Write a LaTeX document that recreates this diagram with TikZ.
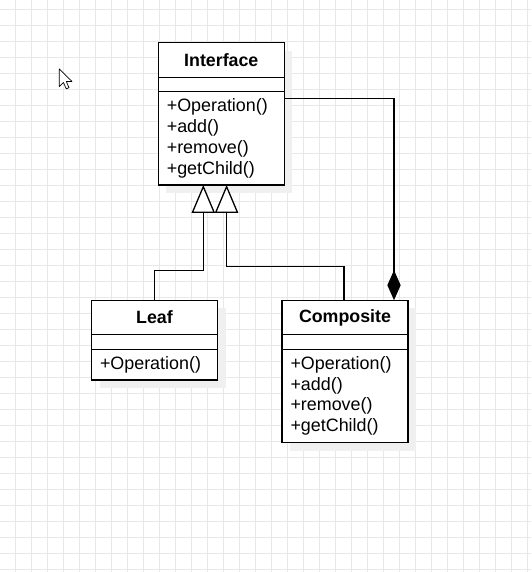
\documentclass[tikz,border=0pt]{standalone}
\usepackage{fontspec}
\setmainfont{Liberation Sans}
\usetikzlibrary{arrows.meta,positioning,shadows}

\begin{document}
\begin{tikzpicture}[x=1pt,y=1pt,
    umlbox/.style={draw, line width=1.3pt, fill=white, outer sep=0pt, inner sep=0pt,
      minimum width=126pt,
      drop shadow={shadow xshift=8pt, shadow yshift=-8pt, fill=black!6, opacity=1}},
    umltitle/.style={umlbox, minimum height=34.6pt, font=\fontsize{17.8}{21}\selectfont\bfseries},
    umlattr/.style={umlbox, minimum height=14.4pt},
    umlops/.style={umlbox, align=left, text width=109pt, inner xsep=8.5pt,
      font=\fontsize{17.9}{20.9}\selectfont},
    inherit/.style={line width=1.3pt, -{Triangle[fill=white, length=28pt, width=23.3pt]}},
    compose/.style={line width=1.3pt, {Diamond[length=30pt, width=13.3pt]}-}]
    \useasboundingbox (0,0) rectangle (531,572);
    \fill[white] (0,0) rectangle (531,572);
    % Grid
    \begin{scope}
      \clip (0,0) rectangle (531,572);
      \draw[black!9, line width=0.8pt, step=16pt, shift={(15.3,2.7)}] (-16,-16) grid (531,572);
    \end{scope}
    % Mouse pointer
    \draw[fill=white, line width=0.7pt, line join=round, shift={(59.3,503)}, scale=1.1]
      (0,0) -- (0,-16) -- (3.8,-12.3) -- (6.3,-18) -- (8.8,-17) -- (6.4,-11.3) -- (11.5,-11.3) -- cycle;
    % Interface
    \node[umltitle] (ifaceT) at (221.3,512) {Interface};
    \node[umlattr, below=0pt of ifaceT] (ifaceA) {};
    \node[umlops, minimum height=93.3pt, below=0pt of ifaceA] (ifaceO)
      {+Operation()\\+add()\\+remove()\\+getChild()};
    % Leaf
    \node[umltitle] (leafT) at (154.5,254.5) {Leaf};
    \node[umlattr, below=0pt of leafT] (leafA) {};
    \node[umlops, minimum height=30.7pt, below=0pt of leafA] (leafO) {+Operation()};
    % Composite
    \node[umltitle] (compT) at (345,254.5) {Composite};
    \node[umlattr, below=0pt of compT] (compA) {};
    \node[umlops, minimum height=93.4pt, below=0pt of compA] (compO)
      {+Operation()\\+add()\\+remove()\\+getChild()};
    % Generalisation
    \draw[inherit] (leafT.north) -- ++(0,30) -| ([xshift=-18pt]ifaceO.south);
    \draw[inherit] ([xshift=-1pt]compT.north) -- ++(0,34) -| ([xshift=5.3pt]ifaceO.south);
    % Composition
    \draw[compose] ([xshift=49pt]compT.north) |- ([yshift=-7pt]ifaceO.north east);
\end{tikzpicture}
\end{document}
